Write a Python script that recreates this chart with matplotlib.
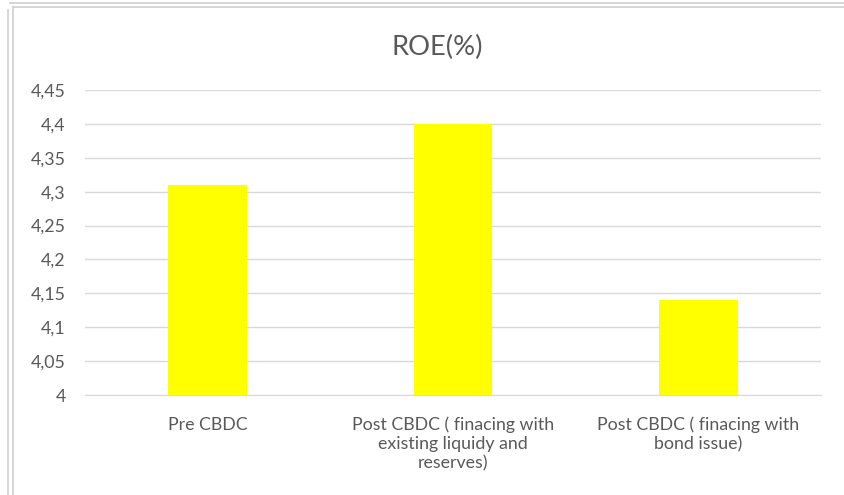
import matplotlib
matplotlib.use('Agg')
import matplotlib.pyplot as plt
from matplotlib.lines import Line2D
from matplotlib.ticker import FuncFormatter, MultipleLocator

# data
categories = ["Pre CBDC",
              "Post CBDC ( finacing with\nexisting liquidy and\nreserves)",
              "Post CBDC ( finacing with\nbond issue)"]
roe_values = [4.31, 4.40, 4.14]
y_min, y_max, y_step = 4.0, 4.45, 0.05

W, H = 844, 495
text_color = '#595959'
grid_color = '#d9d9d9'
plt.rcParams['font.family'] = ['Lato', 'DejaVu Sans']

fig = plt.figure(figsize=(W / 100, H / 100), dpi=100, facecolor='white')
ax = fig.add_axes([85 / W, 1 - 395 / H, (821 - 85) / W, (395 - 90) / H])

x = range(len(categories))
ax.bar(x, roe_values, width=0.32, color='#ffff00', zorder=3)

ax.set_xlim(-0.5, len(categories) - 0.5)
ax.set_ylim(y_min, y_max)
ax.yaxis.set_major_locator(MultipleLocator(y_step))
ax.yaxis.set_major_formatter(FuncFormatter(
    lambda v, _: f"{v:.2f}".rstrip('0').rstrip('.').replace('.', ',')))
ax.grid(axis='y', color=grid_color, linewidth=1, zorder=0)
ax.set_axisbelow(True)

ax.set_xticks(list(x))
ax.set_xticklabels(categories, fontsize=12.8, color=text_color, linespacing=1.22)
ax.tick_params(axis='both', length=0, labelsize=12.8, labelcolor=text_color)
ax.tick_params(axis='x', pad=15.5)
ax.tick_params(axis='y', pad=14)

for side in ['top', 'right', 'left']:
    ax.spines[side].set_visible(False)
ax.spines['bottom'].set_color(grid_color)

fig.text(437 / W, 1 - 47 / H, "ROE(%)", fontsize=19.7, color=text_color,
         ha='center', va='center')

# chart frame lines
def px_line(x0, y0, x1, y1):
    fig.add_artist(Line2D([x0 / W, x1 / W], [1 - y0 / H, 1 - y1 / H],
                          transform=fig.transFigure, color='#d0d0d0', linewidth=1.2))

px_line(10, 2.5, W, 2.5)
px_line(8, 10, 8, H)
px_line(13.5, 7, W, 7)
px_line(13.5, 7, 13.5, H)

fig.savefig('out.png', dpi=100, facecolor='white')
